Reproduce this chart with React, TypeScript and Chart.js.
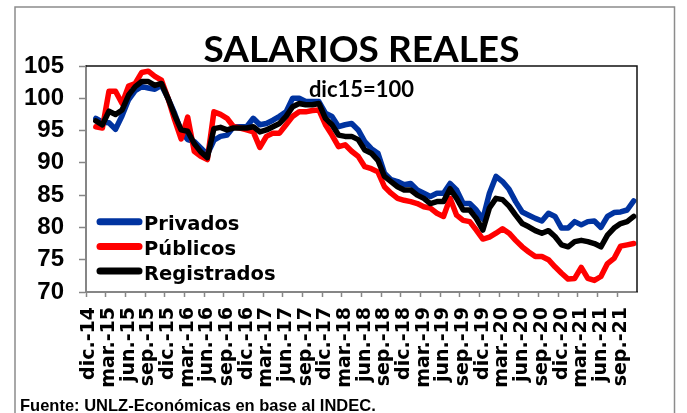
import React, { useEffect, useRef } from "react";
import { Chart, registerables } from "chart.js";

Chart.register(...registerables);

const TITLE = "SALARIOS REALES";
const SUBTITLE = "dic15=100";
const SOURCE = "Fuente: UNLZ-Económicas en base al INDEC.";

const categories = [
  "dic.-14", "ene.-15", "feb.-15", "mar.-15", "abr.-15", "may.-15", "jun.-15", "jul.-15", "ago.-15", "sep.-15", "oct.-15", "nov.-15",
  "dic.-15", "ene.-16", "feb.-16", "mar.-16", "abr.-16", "may.-16", "jun.-16", "jul.-16", "ago.-16", "sep.-16", "oct.-16", "nov.-16",
  "dic.-16", "ene.-17", "feb.-17", "mar.-17", "abr.-17", "may.-17", "jun.-17", "jul.-17", "ago.-17", "sep.-17", "oct.-17", "nov.-17",
  "dic.-17", "ene.-18", "feb.-18", "mar.-18", "abr.-18", "may.-18", "jun.-18", "jul.-18", "ago.-18", "sep.-18", "oct.-18", "nov.-18",
  "dic.-18", "ene.-19", "feb.-19", "mar.-19", "abr.-19", "may.-19", "jun.-19", "jul.-19", "ago.-19", "sep.-19", "oct.-19", "nov.-19",
  "dic.-19", "ene.-20", "feb.-20", "mar.-20", "abr.-20", "may.-20", "jun.-20", "jul.-20", "ago.-20", "sep.-20", "oct.-20", "nov.-20",
  "dic.-20", "ene.-21", "feb.-21", "mar.-21", "abr.-21", "may.-21", "jun.-21", "jul.-21", "ago.-21", "sep.-21", "oct.-21", "nov.-21",
];

const privados = [
  null, 96.9, 96.3, 96.2, 95.2, 97.3, 99.8, 101.2, 101.8, 101.6, 101.4, 102.0,
  100.0, 97.7, 94.9, 93.6, 93.3, 92.3, 91.3, 93.5, 94.1, 94.3, 95.6, 95.6,
  95.6, 96.9, 95.9, 96.1, 96.6, 97.2, 97.9, 100.0, 100.0, 99.5, 99.5, 99.5,
  97.7, 97.2, 95.6, 95.9, 96.1, 95.1, 93.3, 92.2, 91.5, 88.4, 87.4, 87.1,
  86.6, 86.8, 85.8, 85.3, 84.8, 85.3, 85.3, 86.8, 85.8, 83.7, 83.7, 82.7,
  81.3, 85.3, 87.9, 87.1, 85.9, 84.0, 82.4, 81.9, 81.4, 81.0, 82.2, 81.7,
  79.9, 79.9, 80.9, 80.4, 80.9, 81.0, 80.0, 81.7, 82.3, 82.4, 82.7, 84.1,
];

const publicos = [
  null, 95.6, 95.4, 101.1, 101.1, 99.2, 101.9, 102.3, 104.0, 104.2, 103.4, 102.8,
  100.0, 96.7, 93.7, 97.1, 91.8, 91.0, 90.5, 97.9, 97.5, 96.9, 95.6, 95.4,
  95.1, 94.8, 92.4, 94.1, 94.6, 94.6, 95.9, 97.2, 97.9, 97.9, 98.1, 98.2,
  95.9, 94.3, 92.5, 92.8, 91.8, 91.0, 89.4, 89.1, 88.6, 86.3, 85.3, 84.5,
  84.2, 84.0, 83.7, 83.2, 83.0, 82.2, 81.7, 84.5, 81.9, 81.1, 80.9, 79.6,
  78.2, 78.5, 79.1, 79.8, 79.1, 78.0, 77.0, 76.2, 75.5, 75.5, 75.0, 73.9,
  72.9, 72.0, 72.1, 73.8, 72.1, 71.8, 72.4, 74.4, 75.2, 77.1, 77.3, 77.5,
];

const registrados = [
  null, 96.5, 95.9, 98.0, 97.5, 98.2, 100.5, 101.8, 102.6, 102.6, 102.0, 102.3,
  100.0, 97.4, 95.1, 94.9, 93.0, 91.7, 90.8, 95.3, 95.5, 95.1, 95.4, 95.4,
  95.4, 95.6, 94.8, 95.1, 95.6, 96.1, 97.2, 98.7, 99.2, 99.0, 99.0, 99.2,
  96.9, 95.9, 94.3, 94.1, 94.1, 93.6, 92.0, 91.5, 90.4, 87.9, 87.1, 86.3,
  85.8, 85.8, 85.0, 84.5, 83.7, 84.0, 84.0, 86.0, 84.5, 82.7, 82.7, 81.4,
  79.6, 83.0, 84.5, 84.3, 83.3, 81.9, 80.6, 80.1, 79.5, 79.1, 79.5, 78.6,
  77.3, 77.0, 77.8, 78.0, 77.8, 77.5, 77.0, 78.8, 79.9, 80.6, 80.9, 81.7,
];

const seriesLabels = ["Privados", "Públicos", "Registrados"];
const seriesColors = ["#0033A0", "#FF0000", "#000000"];

const decorPlugin = {
  id: "decor",
  beforeDraw(chart: any) {
    const ctx = chart.ctx;
    ctx.save();
    ctx.fillStyle = "#ffffff";
    ctx.fillRect(0, 0, chart.width, chart.height);
    ctx.strokeStyle = "#8c8c8c";
    ctx.lineWidth = 1.5;
    ctx.strokeRect(15, 7, 659.5, 430);
    ctx.restore();
  },
  afterDraw(chart: any) {
    const ctx = chart.ctx;
    const a = chart.chartArea;
    ctx.save();
    ctx.strokeStyle = "#111";
    ctx.lineWidth = 1.5;
    ctx.beginPath();
    ctx.moveTo(a.left, a.top);
    ctx.lineTo(a.right, a.top);
    ctx.lineTo(a.right, a.bottom);
    ctx.stroke();

    const cx = (a.left + a.right) / 2;
    ctx.fillStyle = "#000";
    ctx.textAlign = "center";
    ctx.textBaseline = "alphabetic";
    ctx.font = "bold 37px Lato";
    ctx.fillText(TITLE, cx, 62);
    ctx.font = "bold 22px Lato";
    ctx.fillText(SUBTITLE, cx, 96.5);

    ctx.textAlign = "left";
    ctx.font = "bold 16.5px 'Liberation Sans'";
    ctx.fillText(SOURCE, 20, 411);

    chart.data.datasets.forEach((ds: any, k: number) => {
      const y = 221.7 + k * 24.7;
      ctx.strokeStyle = ds.borderColor;
      ctx.lineWidth = 7;
      ctx.lineCap = "round";
      ctx.beginPath();
      ctx.moveTo(100, y);
      ctx.lineTo(139, y);
      ctx.stroke();
      ctx.fillStyle = "#000";
      ctx.font = "bold 19.5px 'DejaVu Sans'";
      ctx.textBaseline = "alphabetic";
      ctx.fillText(ds.label, 144, y + 8.5);
    });
    ctx.restore();
  },
};

export default function App() {
  const ref = useRef<HTMLCanvasElement>(null);

  useEffect(() => {
    if (!ref.current) return;
    const series = [privados, publicos, registrados];
    const chart = new Chart(ref.current, {
      type: "line",
      data: {
        labels: categories,
        datasets: series.map((d, k) => ({
          label: seriesLabels[k],
          data: d,
          borderColor: seriesColors[k],
          backgroundColor: seriesColors[k],
          borderWidth: 5.5,
          pointRadius: 0,
          tension: 0,
          borderJoinStyle: "round",
          borderCapStyle: "round",
          order: 2 - k,
        })),
      },
      options: {
        animation: false,
        responsive: false,
        maintainAspectRatio: false,
        layout: { padding: { left: 0, right: 50, top: 66, bottom: 0 } },
        plugins: {
          legend: { display: false },
          title: { display: false },
          tooltip: { enabled: false },
        },
        scales: {
          x: {
            type: "category",
            offset: true,
            grid: {
              display: true,
              drawOnChartArea: false,
              drawTicks: true,
              tickLength: 5,
              offset: true,
              tickWidth: 1.5,
              tickColor: (c: any) => (c.index % 3 === 0 ? "#868686" : "rgba(0,0,0,0)"),
            },
            border: { display: true, color: "#868686", width: 2 },
            ticks: {
              autoSkip: false,
              maxRotation: 90,
              minRotation: 90,
              padding: 10,
              color: "#000",
              font: { family: "'DejaVu Sans'", size: 19, weight: "bold" },
              callback: function (this: any, v: any, i: number) {
                return i % 3 === 0 ? this.getLabelForValue(v) : "";
              },
            },
            afterFit: (s: any) => {
              s.height = 121;
            },
          },
          y: {
            min: 70,
            max: 105,
            grid: {
              drawOnChartArea: false,
              drawTicks: true,
              tickLength: 7,
              tickColor: "#868686",
              tickWidth: 1.5,
            },
            border: { display: true, color: "#868686", width: 2 },
            ticks: {
              stepSize: 5,
              padding: 15,
              color: "#000",
              font: { family: "'Liberation Sans'", size: 24, weight: "bold" },
            },
            afterFit: (s: any) => {
              s.width = 86;
            },
          },
        },
      },
      plugins: [decorPlugin],
    } as any);
    return () => chart.destroy();
  }, []);

  return (
    <div style={{ position: "absolute", left: 0, top: 0, width: 687, height: 413, background: "#fff" }}>
      <canvas ref={ref} width={687} height={413} style={{ display: "block" }} />
    </div>
  );
}
